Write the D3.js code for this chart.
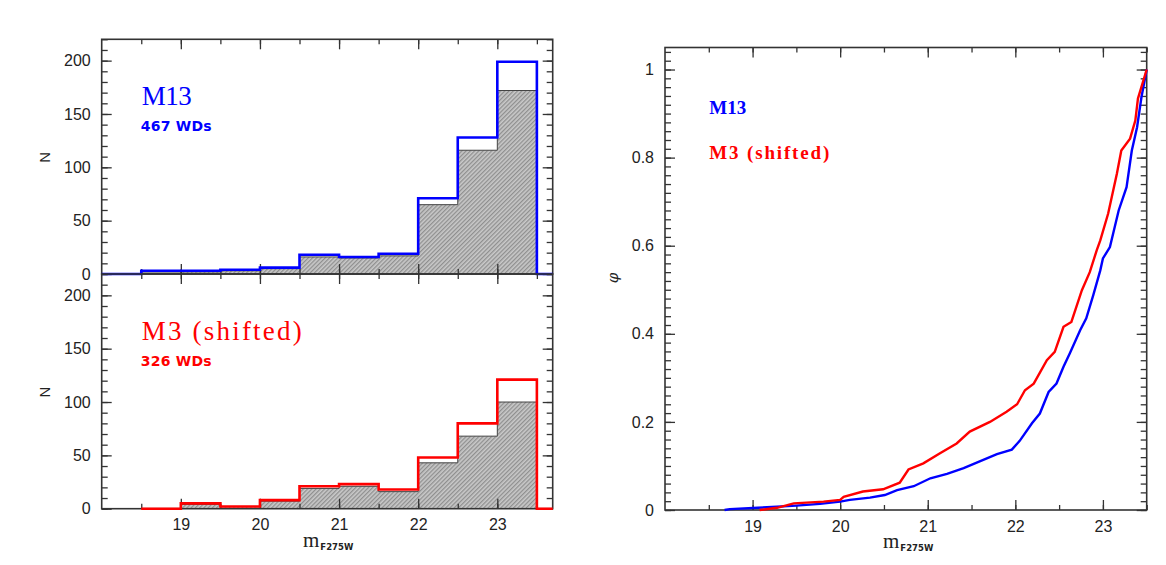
<!DOCTYPE html>
<html>
<head>
<meta charset="utf-8">
<script src="https://cdn.jsdelivr.net/npm/d3@7"></script>
<style>
  body { margin: 0; background: #fff; }
  svg { display: block; }
</style>
</head>
<body>
<svg id="chart" width="1166" height="565"></svg>
<script>
/* ==== Data ==== */
// histogram bins (lower edge, mag), 0.5 mag wide
const binLo = [18.0, 18.5, 19.0, 19.5, 20.0, 20.5, 21.0, 21.5, 22.0, 22.5, 23.0];
const binWidth = 0.5;
const m13Counts = [0, 3, 3, 4, 6, 18, 16, 19, 71, 128, 199];
const m13Shaded = [0, 1, 2, 3, 5, 16, 15, 17, 65, 116, 172];
const m3Counts  = [null, 0, 5, 2, 8, 21, 23, 18, 48, 80, 121];
const m3Shaded  = [null, 0, 4, 2, 7, 19, 21, 16, 43, 68, 100];

// cumulative distributions
const m13Mag = [18.68, 18.74, 19.06, 19.50, 19.77, 20.00, 20.11, 20.34, 20.51, 20.65, 20.84, 21.03,
                21.22, 21.41, 21.60, 21.79, 21.96, 22.05, 22.19, 22.28, 22.38, 22.47, 22.55, 22.62,
                22.74, 22.81, 22.89, 22.97, 23.00, 23.08, 23.18, 23.27, 23.33, 23.39, 23.44, 23.50];
const m13Phi = [0, 0.002, 0.005, 0.010, 0.014, 0.019, 0.023, 0.028, 0.034, 0.045, 0.054, 0.072,
                0.082, 0.095, 0.111, 0.127, 0.137, 0.157, 0.197, 0.219, 0.268, 0.287, 0.325, 0.355,
                0.408, 0.435, 0.488, 0.544, 0.571, 0.597, 0.680, 0.733, 0.816, 0.869, 0.937, 1.0];
const m3Mag = [19.08, 19.28, 19.47, 19.81, 20.00, 20.04, 20.26, 20.49, 20.68, 20.78, 20.95, 21.14,
               21.33, 21.48, 21.71, 21.90, 22.02, 22.11, 22.21, 22.36, 22.45, 22.55, 22.64, 22.76,
               22.85, 22.93, 22.97, 23.06, 23.16, 23.21, 23.31, 23.37, 23.40, 23.50];
const m3Phi = [0, 0.005, 0.015, 0.019, 0.023, 0.030, 0.042, 0.047, 0.062, 0.092, 0.106, 0.129,
               0.151, 0.178, 0.200, 0.223, 0.240, 0.272, 0.287, 0.340, 0.359, 0.416, 0.427, 0.499,
               0.540, 0.590, 0.612, 0.673, 0.764, 0.816, 0.843, 0.884, 0.934, 1.0];

const nTicks = [0, 50, 100, 150, 200];
const nMinor = d3.range(0, 221, 10);
const magTicks = [19, 20, 21, 22, 23];
const magMinor = d3.range(18.5, 23.6, 0.5);
const phiTicks = [0, 0.2, 0.4, 0.6, 0.8, 1];
const phiMinor = d3.range(0, 1.05, 0.02);

const BLUE = "#0000ff";
const RED = "#ff0000";
const INK = "#333";

/* ==== Helpers ==== */
var svg = d3.select("#chart");

var defs = svg.append("defs");
var hatch = defs.append("pattern")
  .attr("id", "hatch")
  .attr("patternUnits", "userSpaceOnUse")
  .attr("width", 3).attr("height", 3)
  .attr("patternTransform", "rotate(45)");
hatch.append("rect").attr("width", 3).attr("height", 3).attr("fill", "#c9c9c9");
hatch.append("line").attr("x1", 0.7).attr("y1", 0).attr("x2", 0.7).attr("y2", 3)
  .attr("stroke", "#858585").attr("stroke-width", 1.1);

function stepPoints(counts) {
  var pts = [];
  counts.forEach(function(c, i) {
    if (c == null) return;
    if (!pts.length) pts.push([binLo[i], 0]);
    pts.push([binLo[i], c], [binLo[i] + binWidth, c]);
  });
  pts.push([pts[pts.length - 1][0], 0]);
  return pts;
}

function tickSide(g, axisFn, scale, values, size, transform, fmt, pad) {
  var a = axisFn(scale).tickValues(values).tickSize(-size)
    .tickPadding(pad || 0).tickFormat(fmt || (() => ""));
  var sel = g.append("g").attr("transform", transform).call(a);
  sel.select(".domain").remove();
  sel.selectAll("line").attr("stroke", INK).attr("stroke-width", 1.3);
  sel.selectAll("text").attr("fill", "#222")
    .style("font-family", "'Liberation Sans', Arial, sans-serif").style("font-size", "16px");
  return sel;
}

// ticks on all four sides, pointing inward
function frame(g, x, y, w, h, o) {
  tickSide(g, d3.axisBottom, x, o.xMinor, 5, `translate(0,${h})`);
  tickSide(g, d3.axisTop, x, o.xMinor, 5, "translate(0,0)");
  tickSide(g, d3.axisBottom, x, o.xMajor, 10, `translate(0,${h})`, o.xLabels ? d3.format("d") : null, o.xPad);
  tickSide(g, d3.axisTop, x, o.xMajor, 10, "translate(0,0)");
  tickSide(g, d3.axisLeft, y, o.yMinor, 6, "translate(0,0)");
  tickSide(g, d3.axisRight, y, o.yMinor, 6, `translate(${w},0)`);
  tickSide(g, d3.axisLeft, y, o.yMajor, 10, "translate(0,0)", o.yFormat, 11);
  tickSide(g, d3.axisRight, y, o.yMajor, 10, `translate(${w},0)`);
  g.append("rect").attr("width", w).attr("height", h)
    .attr("fill", "none").attr("stroke", INK).attr("stroke-width", 1.6);
}

function xLabel(x, yBase) {
  var t = svg.append("text").attr("x", x).attr("y", yBase).attr("fill", "#222");
  t.append("tspan").text("m")
    .style("font-family", "'Liberation Serif', 'Times New Roman', serif").style("font-size", "21px");
  t.append("tspan").text("F275W").attr("dy", 3).attr("dx", 1)
    .style("font-family", "'DejaVu Sans', sans-serif").style("font-size", "8.5px").style("font-weight", "bold");
}

/* ==== Left: histograms ==== */
const L = { left: 101.7, width: 451, top: 39.3, h: 234.7 };
var xHist = d3.scaleLinear().domain([18, 23.7]).range([0, L.width]);

var histPanels = [
  { top: L.top, counts: m13Counts, shaded: m13Shaded, color: BLUE, name: "M13", nameW: 50, nWD: "467 WDs", xLabels: false },
  { top: L.top + L.h, counts: m3Counts, shaded: m3Shaded, color: RED, name: "M3 (shifted)", nameW: 160, nWD: "326 WDs", xLabels: true }
];

histPanels.forEach(function(p) {
  var yN = d3.scaleLinear().domain([0, 220]).range([L.h, 0]);
  var g = svg.append("g").attr("transform", `translate(${L.left},${p.top})`);

  var shadePts = stepPoints(p.shaded);
  g.append("path")
    .attr("d", d3.area().x(d => xHist(d[0])).y0(yN(0)).y1(d => yN(d[1]))(shadePts))
    .attr("fill", "url(#hatch)");
  g.append("path")
    .attr("d", d3.line().x(d => xHist(d[0])).y(d => yN(d[1]))(shadePts))
    .attr("fill", "none").attr("stroke", "#444").attr("stroke-width", 1);

  frame(g, xHist, yN, L.width, L.h, {
    xMajor: magTicks, xMinor: magMinor, yMajor: nTicks, yMinor: nMinor,
    xLabels: p.xLabels, xPad: 9.5, yFormat: d3.format("d")
  });

  var linePts = stepPoints(p.counts);
  linePts.push([xHist.domain()[1], 0]);
  g.append("path")
    .attr("d", d3.line().x(d => xHist(d[0])).y(d => yN(d[1]))(linePts))
    .attr("fill", "none").attr("stroke", p.color).attr("stroke-width", 2.6)
    .attr("stroke-linejoin", "miter");

  g.append("text").text(p.name)
    .attr("x", 40).attr("y", 66)
    .attr("textLength", p.nameW).attr("lengthAdjust", "spacing")
    .attr("fill", p.color)
    .style("font-family", "'Liberation Serif', 'Times New Roman', serif").style("font-size", "27px");
  g.append("text").text(p.nWD)
    .attr("x", 39).attr("y", 91.5)
    .attr("textLength", 71).attr("lengthAdjust", "spacing")
    .attr("fill", p.color)
    .style("font-family", "'DejaVu Sans', sans-serif").style("font-size", "14px").style("font-weight", "bold");

  svg.append("text").text("N")
    .attr("transform", `translate(50,${p.top + 118}) rotate(-90)`)
    .attr("text-anchor", "middle").attr("fill", "#222")
    .style("font-family", "'Liberation Sans', Arial, sans-serif").style("font-size", "15px");
});

xLabel(303, 547);

/* ==== Right: cumulative distributions ==== */
const R = { left: 665, top: 47.5, width: 481.7, h: 462.5 };
var xCum = d3.scaleLinear().domain([18, 23.5]).range([0, R.width]);
var yPhi = d3.scaleLinear().domain([0, 1.05]).range([R.h, 0]);
var gR = svg.append("g").attr("transform", `translate(${R.left},${R.top})`);

frame(gR, xCum, yPhi, R.width, R.h, {
  xMajor: magTicks, xMinor: magMinor, yMajor: phiTicks, yMinor: phiMinor,
  xLabels: true, xPad: 11, yFormat: d3.format("~g")
});

var cumLine = d3.line().x(d => xCum(d[0])).y(d => yPhi(d[1]));
gR.append("path").attr("d", cumLine(d3.zip(m13Mag, m13Phi)))
  .attr("fill", "none").attr("stroke", BLUE).attr("stroke-width", 2.4);
gR.append("path").attr("d", cumLine(d3.zip(m3Mag, m3Phi)))
  .attr("fill", "none").attr("stroke", RED).attr("stroke-width", 2.4);

gR.append("text").text("M13")
  .attr("x", 44.3).attr("y", 66.8).attr("textLength", 37).attr("lengthAdjust", "spacing")
  .attr("fill", BLUE)
  .style("font-family", "'Liberation Serif', 'Times New Roman', serif").style("font-size", "19px").style("font-weight", "bold");
gR.append("text").text("M3 (shifted)")
  .attr("x", 44.3).attr("y", 111.8).attr("textLength", 120).attr("lengthAdjust", "spacing")
  .attr("fill", RED)
  .style("font-family", "'Liberation Serif', 'Times New Roman', serif").style("font-size", "19px").style("font-weight", "bold");

svg.append("text").text("φ")
  .attr("transform", "translate(618,278) rotate(-90)")
  .attr("text-anchor", "middle").attr("fill", "#222")
  .style("font-family", "'DejaVu Serif', serif").style("font-style", "italic").style("font-size", "15px");

xLabel(883, 548);
</script>
</body>
</html>
